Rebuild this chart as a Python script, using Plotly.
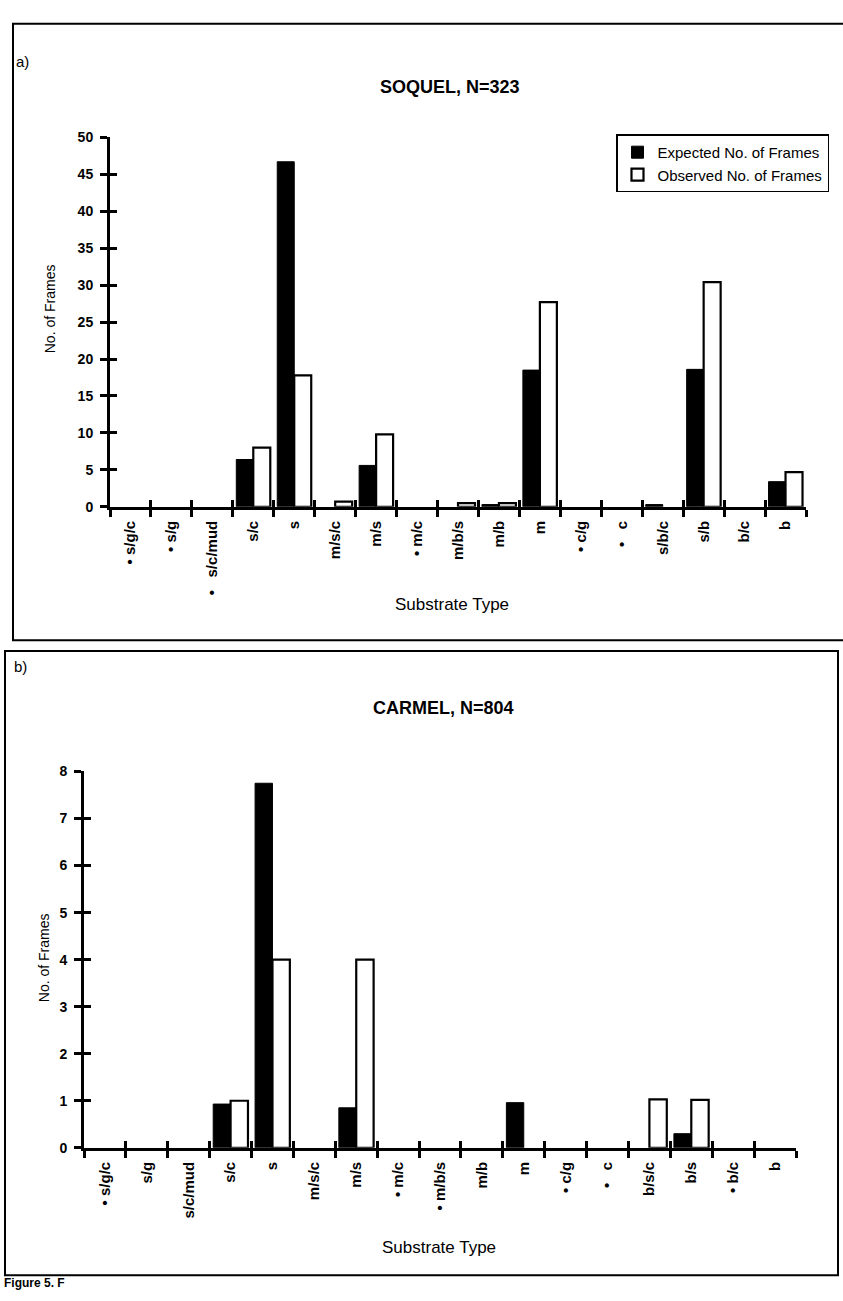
import plotly.graph_objects as go

# ---- data -------------------------------------------------------------
soquel_types = ["•\u00a0s/g/c", "•\u00a0s/g", "•\u00a0\u00a0\u00a0s/c/mud", "s/c", "s", "m/s/c", "m/s",
                "•\u00a0m/c", "m/b/s", "m/b", "m", "•\u00a0c/g", "•\u00a0\u00a0\u00a0c", "s/b/c", "s/b",
                "b/c", "b"]
soquel_expected = [0, 0, 0, 6.4, 46.7, 0, 5.6, 0, 0, 0.3, 18.5, 0, 0, 0.3, 18.6, 0, 3.4]
soquel_observed = [0, 0, 0, 8.0, 17.8, 0.7, 9.8, 0, 0.5, 0.5, 27.7, 0, 0, 0, 30.4, 0, 4.7]

carmel_types = ["•\u00a0s/g/c", "s/g", "s/c/mud", "s/c", "s", "m/s/c", "m/s", "•\u00a0m/c",
                "•\u00a0m/b/s", "m/b", "m", "•\u00a0c/g", "•\u00a0\u00a0\u00a0c", "b/s/c", "b/s",
                "•\u00a0b/c", "b"]
carmel_expected = [0, 0, 0, 0.93, 7.75, 0, 0.85, 0, 0, 0, 0.96, 0, 0, 0, 0.3, 0, 0]
carmel_observed = [0, 0, 0, 1.0, 4.0, 0, 4.0, 0, 0, 0, 0, 0, 0, 1.03, 1.02, 0, 0]

soquel_yticks = list(range(0, 51, 5))
carmel_yticks = list(range(0, 9, 1))

# ---- page geometry (pixels -> paper fractions) ------------------------
W, H = 843, 1301


def fx(px):
    return px / W


def fy(py):
    return 1 - py / H


def nonzero(values):
    # empty categories get no bar at all (not even an outline on the axis)
    return [v if v else None for v in values]


FONT = "Liberation Sans, Arial, Helvetica, sans-serif"

fig = go.Figure()

exp_style = dict(color="black", line=dict(color="black", width=1))
obs_style = dict(color="white", line=dict(color="black", width=2.2))

fig.add_trace(go.Bar(x=soquel_types, y=nonzero(soquel_expected), name="Expected No. of Frames",
                     marker=exp_style, xaxis="x", yaxis="y", legendgroup="exp"))
fig.add_trace(go.Bar(x=soquel_types, y=nonzero(soquel_observed), name="Observed No. of Frames",
                     marker=obs_style, xaxis="x", yaxis="y", legendgroup="obs"))
fig.add_trace(go.Bar(x=carmel_types, y=nonzero(carmel_expected), name="Expected No. of Frames",
                     marker=exp_style, xaxis="x2", yaxis="y2", showlegend=False))
fig.add_trace(go.Bar(x=carmel_types, y=nonzero(carmel_observed), name="Observed No. of Frames",
                     marker=obs_style, xaxis="x2", yaxis="y2", showlegend=False))

# empty traces that bring the inner-tick overlay axes into existence
for xa, ya in [("x3", "y"), ("x", "y3"), ("x4", "y2"), ("x2", "y4")]:
    fig.add_trace(go.Scatter(x=[None], y=[None], xaxis=xa, yaxis=ya, mode="markers",
                             showlegend=False, hoverinfo="skip"))

n = len(soquel_types)
bounds = [i - 0.5 for i in range(n + 1)]
TICKW, TICKL = 2.5, 7


def cat_axis(cats, domain, anchor):
    return dict(type="category", categoryorder="array", categoryarray=cats,
                range=[-0.5, n - 0.5], domain=domain, anchor=anchor,
                showline=True, linewidth=3, linecolor="black",
                ticks="outside", tickson="boundaries", ticklen=TICKL, tickwidth=TICKW,
                tickcolor="black", tickangle=-90, ticklabelstandoff=5,
                tickfont=dict(family=FONT, size=15, color="black", weight="bold"),
                showgrid=False, zeroline=False, fixedrange=True)


def val_axis(rng, ticks, domain, anchor):
    return dict(range=rng, tickvals=ticks, domain=domain, anchor=anchor,
                showline=True, linewidth=3, linecolor="black",
                ticks="outside", ticklen=TICKL, tickwidth=TICKW, tickcolor="black",
                ticklabelstandoff=4,
                tickfont=dict(family=FONT, size=14, color="black", weight="bold"),
                showgrid=False, zeroline=False, fixedrange=True)


def inner_x(over, anchor):
    return dict(overlaying=over, anchor=anchor, type="linear", range=[-0.5, n - 0.5],
                tickvals=bounds, ticks="inside", ticklen=TICKL, tickwidth=TICKW,
                tickcolor="black", showticklabels=False, showline=False, showgrid=False,
                zeroline=False, side="bottom", fixedrange=True)


def inner_y(over, anchor, rng, ticks):
    return dict(overlaying=over, anchor=anchor, range=rng, tickvals=ticks,
                ticks="inside", ticklen=TICKL, tickwidth=TICKW, tickcolor="black",
                showticklabels=False, showline=False, showgrid=False, zeroline=False,
                side="left", fixedrange=True)


top_x = [fx(110), fx(806)]
top_y = [fy(505), fy(131)]
bot_x = [fx(84), fx(796)]
bot_y = [fy(1154), fy(773)]

fig.update_layout(
    xaxis=cat_axis(soquel_types, top_x, "y"),
    yaxis=val_axis([0, 50], soquel_yticks, top_y, "x"),
    xaxis2=cat_axis(carmel_types, bot_x, "y2"),
    yaxis2=val_axis([0, 8], carmel_yticks, bot_y, "x2"),
    xaxis3=inner_x("x", "y"),
    yaxis3=inner_y("y", "x", [0, 50], soquel_yticks),
    xaxis4=inner_x("x2", "y2"),
    yaxis4=inner_y("y2", "x2", [0, 8], carmel_yticks),
)


# ---- text --------------------------------------------------------------
def label(text, x, y, size, bold=False, angle=0, xanchor="center", yanchor="middle"):
    fig.add_annotation(text=text, x=fx(x), y=fy(y), xref="paper", yref="paper",
                       showarrow=False, textangle=angle, xanchor=xanchor, yanchor=yanchor,
                       font=dict(family=FONT, size=size, color="black",
                                 weight="bold" if bold else "normal"))


label("a)", 22, 54, 15)
label("SOQUEL, N=323", 450, 80, 18, bold=True)
label("Substrate Type", 452, 604, 17)
label("No. of Frames", 50, 305, 14, angle=-90)

label("b)", 20, 667, 15)
label("CARMEL, N=804", 443, 709, 18, bold=True)
label("Substrate Type", 439, 1255, 17)
label("No. of Frames", 44, 962, 14, angle=-90)

# start of the figure caption below the lower panel
label("Figure 5. F", 2, 1300, 12, bold=True, xanchor="left", yanchor="bottom")

# ---- panel frames ------------------------------------------------------
frame = dict(type="rect", xref="paper", yref="paper", line=dict(color="black", width=2),
             fillcolor="rgba(0,0,0,0)", layer="below")
fig.add_shape(x0=fx(13), x1=fx(860), y0=fy(640), y1=fy(16), **frame)
fig.add_shape(x0=fx(5), x1=fx(838), y0=fy(1283), y1=fy(651), **frame)

fig.update_layout(
    width=W, height=H, autosize=False,
    margin=dict(l=0, r=0, t=0, b=0),
    paper_bgcolor="white", plot_bgcolor="rgba(0,0,0,0)",
    barmode="group", bargap=0.17, bargroupgap=0,
    showlegend=True,
    legend=dict(x=fx(616), y=fy(128), xanchor="left", yanchor="top",
                bgcolor="white", bordercolor="black", borderwidth=1.5,
                font=dict(family=FONT, size=15, color="black"),
                tracegroupgap=16, traceorder="normal", itemwidth=30),
    font=dict(family=FONT, color="black"),
)

fig.write_html("out.html")
